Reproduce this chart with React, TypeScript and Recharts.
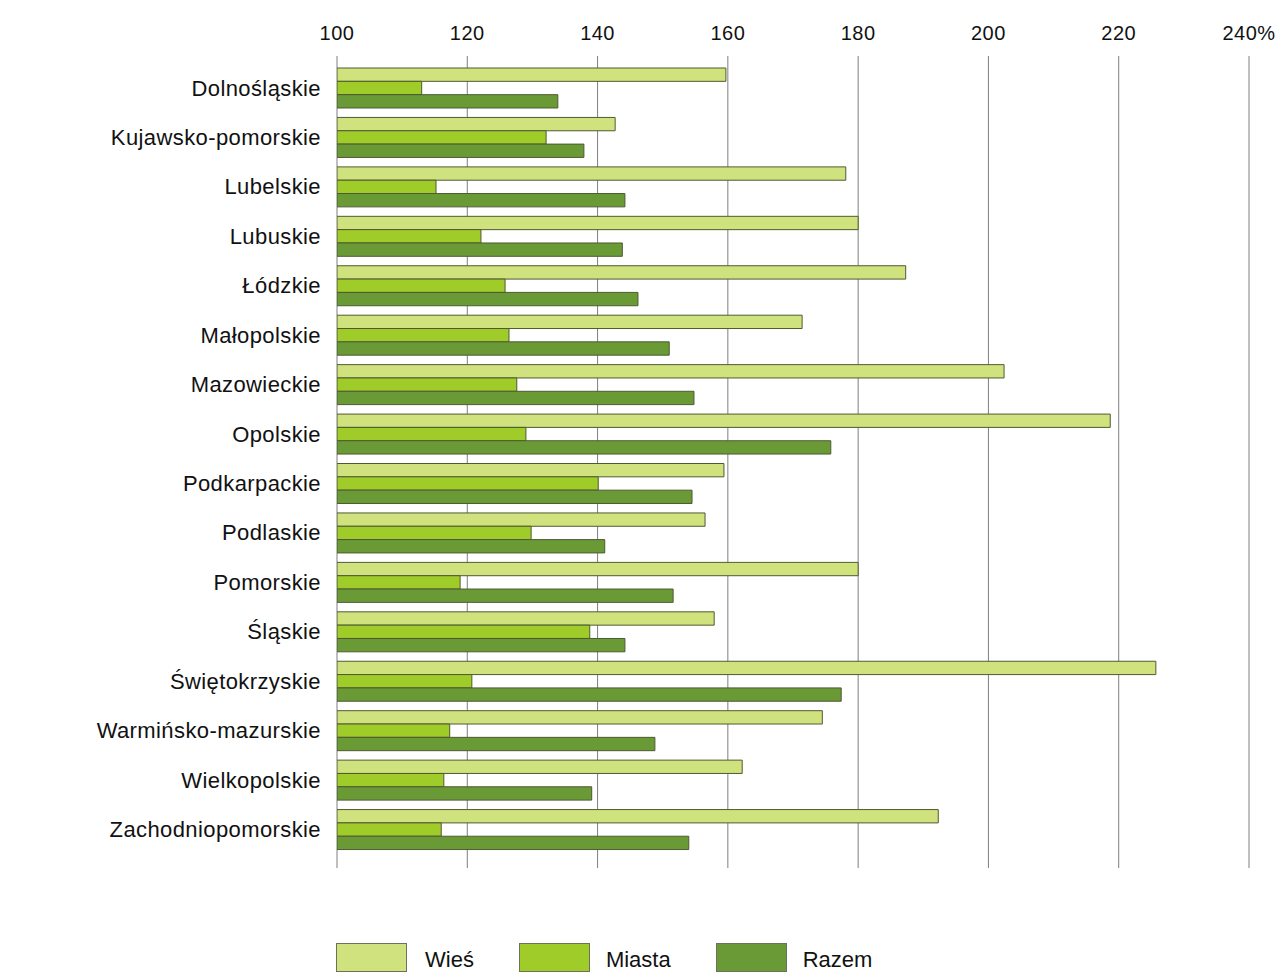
import React from 'react';
import { BarChart, Bar, XAxis, YAxis, CartesianGrid, Legend } from 'recharts';

const categories = [
  'Dolnośląskie',
  'Kujawsko-pomorskie',
  'Lubelskie',
  'Lubuskie',
  'Łódzkie',
  'Małopolskie',
  'Mazowieckie',
  'Opolskie',
  'Podkarpackie',
  'Podlaskie',
  'Pomorskie',
  'Śląskie',
  'Świętokrzyskie',
  'Warmińsko-mazurskie',
  'Wielkopolskie',
  'Zachodniopomorskie',
];

const wies = [159.7, 142.7, 178.1, 180.0, 187.3, 171.4, 202.4, 218.7, 159.4, 156.5, 180.0, 157.9, 225.7, 174.5, 162.2, 192.3];
const miasta = [113.0, 132.1, 115.2, 122.1, 125.8, 126.4, 127.6, 129.0, 140.1, 129.8, 118.9, 138.8, 120.7, 117.3, 116.4, 116.0];
const razem = [133.9, 137.9, 144.2, 143.8, 146.2, 151.0, 154.8, 175.8, 154.5, 141.1, 151.6, 144.2, 177.4, 148.8, 139.1, 154.0];

const xTicks = [100, 120, 140, 160, 180, 200, 220, 240];
const xTickLabels = ['100', '120', '140', '160', '180', '200', '220', '240%'];

const seriesNames = ['Wieś', 'Miasta', 'Razem'];
const seriesKeys = ['wies', 'miasta', 'razem'];
const seriesColors = ['#d0e27e', '#a0cc2a', '#6a9a35'];

const data = categories.map((name, i) => ({
  name,
  wies: wies[i],
  miasta: miasta[i],
  razem: razem[i],
}));

const FONT = '"Liberation Sans", Arial, Helvetica, sans-serif';
const BAR_STROKE = '#4f5a33';

const LegendContent = () => (
  <div style={{ display: 'flex', alignItems: 'center', fontFamily: FONT, fontSize: 22, color: '#111' }}>
    {seriesNames.map((n, i) => (
      <div key={n} style={{ display: 'flex', alignItems: 'center', marginRight: 45 }}>
        <div
          style={{
            width: 69,
            height: 27,
            background: seriesColors[i],
            border: '1px solid #6d705c',
            marginRight: i === 0 ? 18 : 16,
          }}
        />
        <span style={{ position: 'relative', top: 2 }}>{n}</span>
      </div>
    ))}
  </div>
);

export default function App() {
  return (
    <div style={{ position: 'absolute', left: 0, top: 0, width: 1278, height: 972, background: '#fff' }}>
      <BarChart
        width={1278}
        height={972}
        data={data}
        layout="vertical"
        margin={{ top: 0, right: 29, left: 0, bottom: 104 }}
        barGap={0}
        barSize={13.33}
      >
        <CartesianGrid horizontal={false} vertical={true} stroke="#7f7f7f" strokeWidth={1} />
        <XAxis
          type="number"
          orientation="top"
          domain={[100, 240]}
          ticks={xTicks}
          tickFormatter={(v: number) => xTickLabels[xTicks.indexOf(v)] ?? String(v)}
          axisLine={false}
          tickLine={false}
          tickSize={0}
          tickMargin={16}
          height={56}
          allowDataOverflow
          tick={{ fill: '#111', fontSize: 20, fontFamily: FONT, letterSpacing: 0.5 }}
          interval={0}
        />
        <YAxis
          type="category"
          dataKey="name"
          width={337}
          axisLine={false}
          tickLine={false}
          tickSize={0}
          tickMargin={16}
          padding={{ top: 7, bottom: 14 }}
          interval={0}
          tick={{ fill: '#111', fontSize: 22, fontFamily: FONT, letterSpacing: 0.4 }}
        />
        <Legend
          layout="horizontal"
          verticalAlign="middle"
          align="center"
          content={<LegendContent />}
          wrapperStyle={{ position: 'absolute', left: 336, top: 943, width: 700, height: 30 }}
        />
        {seriesKeys.map((k, i) => (
          <Bar
            key={k}
            dataKey={k}
            name={seriesNames[i]}
            fill={seriesColors[i]}
            stroke={BAR_STROKE}
            strokeWidth={1}
            isAnimationActive={false}
          />
        ))}
      </BarChart>
    </div>
  );
}
